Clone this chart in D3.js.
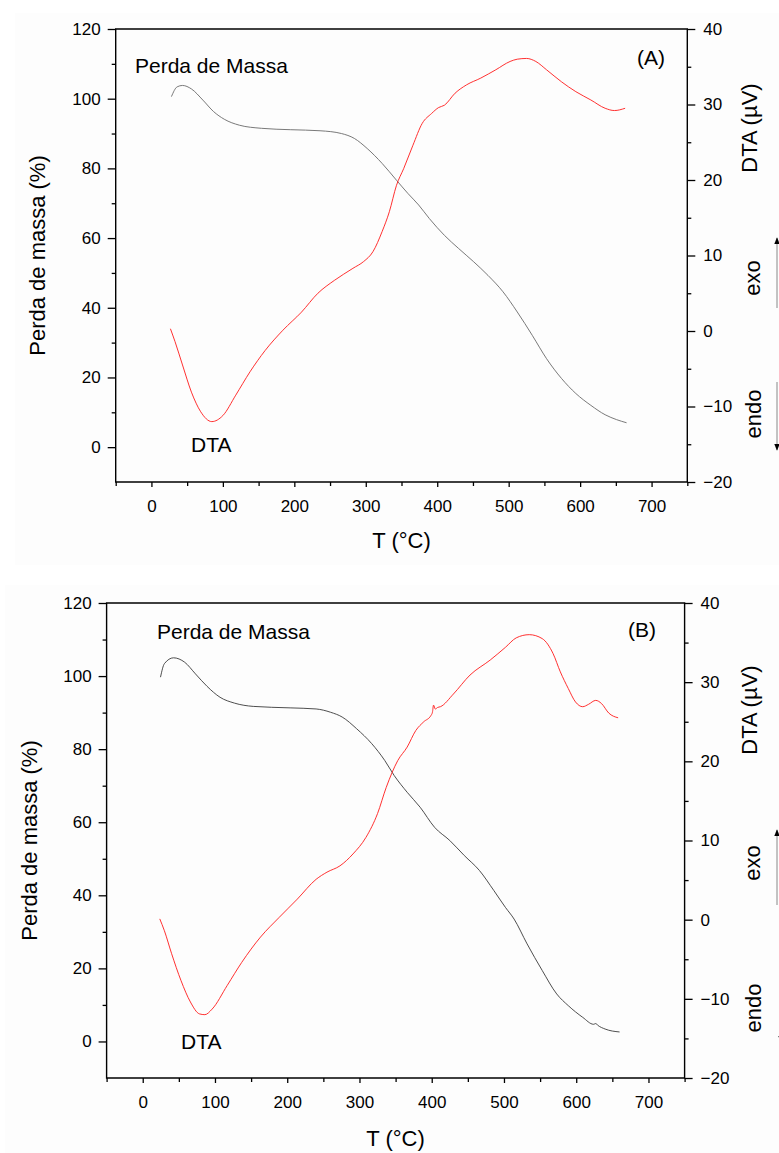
<!DOCTYPE html>
<html lang="pt">
<head>
  <meta charset="UTF-8">
  <script src="https://cdn.jsdelivr.net/npm/d3@7"></script>
  <title>TG / DTA</title>
  <style>
    body { margin: 0; background: #fff; }
    svg { display: block; font-family: "Liberation Sans", Arial, sans-serif; }
  </style>
</head>
<body>
<svg></svg>
<script>
const width = 779;
const height = 1153;

// tick values
const tempMajor = [0, 100, 200, 300, 400, 500, 600, 700];
const tempMinor = [-50, 50, 150, 250, 350, 450, 550, 650, 750];
const massMajor = [0, 20, 40, 60, 80, 100, 120];
const massMinor = [10, 30, 50, 70, 90, 110];
const dtaMajor = [-20, -10, 0, 10, 20, 30, 40];
const dtaMinor = [-15, -5, 5, 15, 25, 35];

// (A) perda de massa [T, %]
const massA = [
  [28, 100.6], [36, 103.4], [43.5, 103.8], [56, 102.8], [72, 99.6], [87, 96.3],
  [102, 94.1], [123, 92.4], [154, 91.5], [195, 91.1], [236, 90.8], [266, 90.0],
  [284, 88.6], [302, 85.7], [323, 81.4], [343, 76.6], [359, 72.8], [374, 69.5],
  [389, 65.6], [410, 60.8], [430, 57.0], [451, 53.2], [471, 49.3], [492, 44.6],
  [512, 38.8], [533, 32.1], [553, 25.4], [574, 19.7], [594, 15.4], [615, 12.0],
  [635, 9.3], [651, 7.9], [665, 7.0]
];
// (A) DTA [T, µV]
const dtaA = [
  [26.6, 0.3], [33, -1.4], [43.5, -4.5], [56, -8.1], [69, -10.7], [84.5, -12.0],
  [100, -11.2], [118, -8.5], [138, -5.4], [159, -2.6], [184, 0.1], [210, 2.5],
  [233, 5.0], [256, 6.7], [282, 8.3], [297, 9.2], [310, 10.5], [323, 13.2],
  [333, 15.8], [343, 19.3], [353, 21.5], [366, 24.6], [379, 27.5], [392, 28.8],
  [402, 29.6], [410, 29.9], [425, 31.5], [441, 32.6], [461, 33.5], [482, 34.6],
  [502, 35.7], [512, 36.0], [525, 36.1], [538, 35.7], [553, 34.6], [574, 33.0],
  [594, 31.7], [615, 30.6], [635, 29.5], [648, 29.2], [663, 29.5]
];
// (B) perda de massa [T, %]
const massB = [
  [24.6, 99.7], [30, 103.4], [42.6, 105.0], [58, 103.8], [73, 100.6], [89, 97.2],
  [107, 94.2], [127, 92.6], [153, 91.7], [204, 91.3], [240, 91.0], [260, 90.1],
  [276, 88.8], [296, 85.6], [317, 81.5], [335, 76.9], [348, 72.8], [366, 68.2],
  [384, 64.1], [404, 58.6], [425, 55.0], [445, 50.9], [466, 46.8], [486, 41.3],
  [502, 36.7], [514, 33.5], [532, 26.7], [553, 19.4], [573, 13.0], [589, 9.8],
  [609, 6.6], [624, 4.7], [627, 4.9], [630, 4.4], [640, 3.4], [660, 2.6]
];
// (B) DTA [T, µV]
const dtaB = [
  [23.6, 0.1], [30, -1.4], [40, -4.3], [53, -7.7], [66, -10.4], [78.5, -11.9],
  [86, -12.0], [96, -11.3], [117, -8.3], [137, -5.4], [163, -2.2], [189, 0.3],
  [214, 2.6], [240, 5.1], [255, 6.0], [273, 6.8], [291, 8.3], [309, 10.4],
  [325, 13.4], [337, 16.7], [353, 20.1], [366, 21.8], [378, 23.9], [389, 25.0],
  [399, 25.8], [401, 26.2], [402.5, 27.1], [405, 26.6], [408, 26.8], [412, 26.9],
  [430, 28.5], [453, 30.9], [481, 32.8], [502, 34.4], [517, 35.6], [535, 36.0],
  [553, 35.5], [568, 33.6], [578, 31.3], [589, 29.2], [599, 27.5], [609, 26.9],
  [617, 27.2], [627, 27.7], [635, 27.3], [645, 26.1], [658, 25.5]
];

const panels = [
  {
    tag: '(A)', mass: massA, dta: dtaA, massColor: '#6a6a6a',
    bg: [15, 13, 764, 552],
    left: 115.7, right: 687.3, top: 29, bottom: 482,
    massLabel: [135, 73], tagPos: [637, 65], dtaLabel: [191, 452],
    yTitle: [45, 255.5], y2Title: [757, 128], xTitle: 548,
    exo: 278, endo: 414, exoArrow: [777, 308, 238], endoArrow: [777, 382, 450]
  },
  {
    tag: '(B)', mass: massB, dta: dtaB, massColor: '#3a3a3a',
    bg: [5, 585, 774, 568],
    left: 106.6, right: 684.6, top: 603, bottom: 1078,
    massLabel: [157, 639], tagPos: [628, 637], dtaLabel: [181, 1049],
    yTitle: [37, 840.5], y2Title: [757, 710], xTitle: 1146,
    exo: 863, endo: 1008, exoArrow: [777, 905, 830], endoArrow: [781, 972, 1042]
  }
];

const svg = d3.select('svg').attr('width', width).attr('height', height);

svg.append('defs').append('marker')
  .attr('id', 'head')
  .attr('viewBox', '0 0 10 10')
  .attr('refX', 9).attr('refY', 5)
  .attr('markerWidth', 7).attr('markerHeight', 9)
  .attr('markerUnits', 'userSpaceOnUse')
  .attr('orient', 'auto')
  .append('path').attr('d', 'M0,1 L10,5 L0,9 Z').attr('fill', '#000');

const styleAxis = (g, size) => {
  g.select('.domain').remove();
  g.selectAll('line').attr('stroke', '#000').attr('stroke-width', 1.3);
  g.selectAll('text').attr('font-size', size).attr('fill', '#000');
};

const paintPanel = p => {
  const layer = svg.append('g');

  layer.append('rect')
    .attr('x', p.bg[0]).attr('y', p.bg[1])
    .attr('width', p.bg[2]).attr('height', p.bg[3])
    .attr('fill', '#fdfdfd');

  const x = d3.scaleLinear().domain([-50, 750]).range([p.left, p.right]);
  const yMass = d3.scaleLinear().domain([-10, 120]).range([p.bottom, p.top]);
  const yDta = d3.scaleLinear().domain([-20, 40]).range([p.bottom, p.top]);

  // bottom axis
  const gx = layer.append('g').attr('transform', `translate(0,${p.bottom})`);
  gx.append('g').call(d3.axisBottom(x).tickValues(tempMajor).tickSize(5).tickPadding(13))
    .call(g => styleAxis(g, 17));
  gx.append('g').call(d3.axisBottom(x).tickValues(tempMinor).tickSize(4).tickFormat(''))
    .call(g => styleAxis(g, 17));

  // left axis
  const gy = layer.append('g').attr('transform', `translate(${p.left},0)`);
  gy.append('g').call(d3.axisLeft(yMass).tickValues(massMajor).tickSize(8).tickPadding(7))
    .call(g => styleAxis(g, 17));
  gy.append('g').call(d3.axisLeft(yMass).tickValues(massMinor).tickSize(4).tickFormat(''))
    .call(g => styleAxis(g, 17));

  // right axis
  const gy2 = layer.append('g').attr('transform', `translate(${p.right},0)`);
  gy2.append('g').call(d3.axisRight(yDta).tickValues(dtaMajor).tickSize(8).tickPadding(8))
    .call(g => styleAxis(g, 17));
  gy2.append('g').call(d3.axisRight(yDta).tickValues(dtaMinor).tickSize(4).tickFormat(''))
    .call(g => styleAxis(g, 17));

  // frame (left, bottom, right, top)
  layer.append('path')
    .attr('d', `M${p.left},${p.top}V${p.bottom}H${p.right}V${p.top}Z`)
    .attr('fill', 'none').attr('stroke', '#000').attr('stroke-width', 1.4);

  const massLine = d3.line().x(d => x(d[0])).y(d => yMass(d[1])).curve(d3.curveMonotoneX);
  const dtaLine = d3.line().x(d => x(d[0])).y(d => yDta(d[1])).curve(d3.curveMonotoneX);

  layer.append('path').datum(p.mass)
    .attr('d', massLine)
    .attr('fill', 'none').attr('stroke', p.massColor).attr('stroke-width', 0.9);
  layer.append('path').datum(p.dta)
    .attr('d', dtaLine)
    .attr('fill', 'none').attr('stroke', '#ff1a1a').attr('stroke-width', 0.9);

  const note = (txt, xx, yy, size) => layer.append('text')
    .attr('x', xx).attr('y', yy).attr('font-size', size).attr('fill', '#000').text(txt);

  note('Perda de Massa', p.massLabel[0], p.massLabel[1], 21);
  note(p.tag, p.tagPos[0], p.tagPos[1], 21);
  note('DTA', p.dtaLabel[0], p.dtaLabel[1], 21);

  layer.append('text')
    .attr('x', (p.left + p.right) / 2).attr('y', p.xTitle)
    .attr('text-anchor', 'middle').attr('font-size', 22).text('T (°C)');

  const vText = (txt, xx, yy) => layer.append('text')
    .attr('transform', `translate(${xx},${yy}) rotate(-90)`)
    .attr('text-anchor', 'middle').attr('font-size', 22).text(txt);

  vText('Perda de massa (%)', p.yTitle[0], p.yTitle[1]);
  vText('DTA (µV)', p.y2Title[0], p.y2Title[1]);
  vText('exo', 760, p.exo);
  vText('endo', 761, p.endo);

  [p.exoArrow, p.endoArrow].forEach(a => {
    layer.append('line')
      .attr('x1', a[0]).attr('x2', a[0]).attr('y1', a[1]).attr('y2', a[2])
      .attr('stroke', '#888').attr('stroke-width', 1)
      .attr('marker-end', 'url(#head)');
  });
};

panels.forEach(paintPanel);
</script>
</body>
</html>
